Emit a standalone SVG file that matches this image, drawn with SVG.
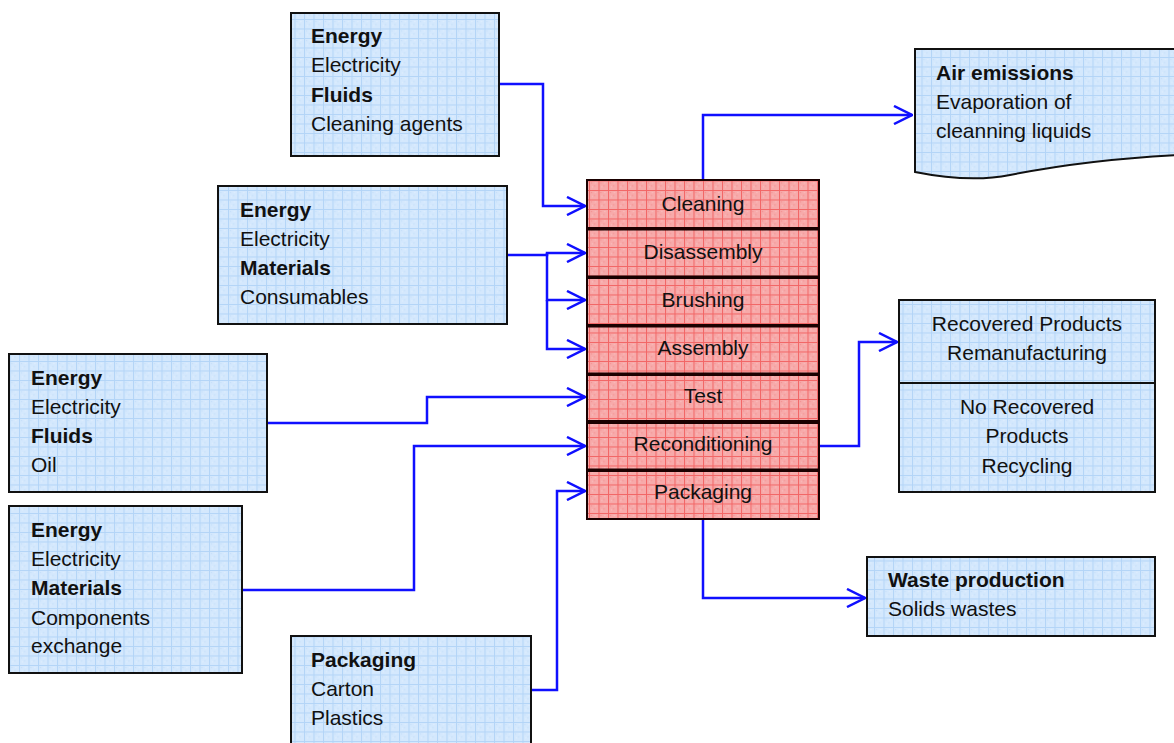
<svg xmlns="http://www.w3.org/2000/svg" width="1174" height="743" viewBox="0 0 1174 743">
<style>
.box{fill:url(#blue);stroke:#111;stroke-width:2}
.row{fill:url(#red);stroke:#1a0000;stroke-width:2}
text{font-family:"Liberation Sans",Arial,sans-serif;font-size:21px;fill:#111}
.b{font-weight:bold}
.c{text-anchor:middle}
.con{fill:none;stroke:#1010ff;stroke-width:2.5;marker-end:url(#arr)}
</style>
<defs>
<pattern id="blue" width="9.5" height="9.5" patternUnits="userSpaceOnUse">
<rect width="9.5" height="9.5" fill="#d4e8fd"/>
<rect x="2" y="2" width="1" height="1" fill="#c0dcf8"/><rect x="5" y="5" width="1" height="1" fill="#c0dcf8"/><rect x="6" y="2" width="1" height="1" fill="#e6f2fe"/><rect x="3" y="6" width="1" height="1" fill="#e6f2fe"/>
<path d="M0,0.5H9.5M0.5,0V9.5" stroke="#b3d4f7" stroke-width="1"/>
</pattern>
<pattern id="red" width="9.5" height="9.5" patternUnits="userSpaceOnUse">
<rect width="9.5" height="9.5" fill="#f7aaaa"/>
<rect x="2" y="2" width="1" height="1" fill="#f38a8a"/><rect x="5" y="5" width="1" height="1" fill="#f38a8a"/><rect x="6" y="2" width="1" height="1" fill="#fbcaca"/><rect x="3" y="6" width="1" height="1" fill="#fbcaca"/>
<path d="M0,0.5H9.5M0.5,0V9.5" stroke="#f26565" stroke-width="1"/>
</pattern>
<marker id="arr" viewBox="0 0 20 20" refX="19" refY="10" markerWidth="20" markerHeight="20" markerUnits="userSpaceOnUse" orient="auto">
<path d="M1,1 L19,10 L1,19" fill="none" stroke="#1010ff" stroke-width="2.5"/>
</marker>
</defs>

<g id="connectors">
<path class="con" d="M499,84 H543 V206 H585"/>
<path class="con" d="M507,255 H547 V253 H585"/>
<path class="con" d="M547,253 V300 H585"/>
<path class="con" d="M547,300 V349 H585"/>
<path class="con" d="M267,423 H427 V397 H585"/>
<path class="con" d="M242,590 H414 V446 H585"/>
<path class="con" d="M531,690 H557 V491 H585"/>
<path class="con" d="M703,180 V115 H912"/>
<path class="con" d="M819,446 H859 V342 H897"/>
<path class="con" d="M703,519 V598 H865"/>
</g>

<g id="input-cleaning">
<rect class="box" x="291" y="13" width="208" height="143"/>
<text x="311" y="43" class="b">Energy</text>
<text x="311" y="72">Electricity</text>
<text x="311" y="102" class="b">Fluids</text>
<text x="311" y="131">Cleaning agents</text>
</g>

<g id="input-consumables">
<rect class="box" x="218" y="186" width="289" height="138"/>
<text x="240" y="217" class="b">Energy</text>
<text x="240" y="246">Electricity</text>
<text x="240" y="275" class="b">Materials</text>
<text x="240" y="304">Consumables</text>
</g>

<g id="input-oil">
<rect class="box" x="9" y="354" width="258" height="138"/>
<text x="31" y="385" class="b">Energy</text>
<text x="31" y="414">Electricity</text>
<text x="31" y="443" class="b">Fluids</text>
<text x="31" y="472">Oil</text>
</g>

<g id="input-components">
<rect class="box" x="9" y="506" width="233" height="167"/>
<text x="31" y="537" class="b">Energy</text>
<text x="31" y="566">Electricity</text>
<text x="31" y="595" class="b">Materials</text>
<text x="31" y="625">Components</text>
<text x="31" y="653">exchange</text>
</g>

<g id="input-packaging">
<rect class="box" x="291" y="636" width="240" height="112"/>
<text x="311" y="667" class="b">Packaging</text>
<text x="311" y="696">Carton</text>
<text x="311" y="725">Plastics</text>
</g>

<g id="process">
<rect class="row" x="587" y="180" width="232" height="48"/>
<rect class="row" x="587" y="229.5" width="232" height="47"/>
<rect class="row" x="587" y="278" width="232" height="47"/>
<rect class="row" x="587" y="326.5" width="232" height="47"/>
<rect class="row" x="587" y="375" width="232" height="46"/>
<rect class="row" x="587" y="423" width="232" height="46.5"/>
<rect class="row" x="587" y="471" width="232" height="48"/>
<text x="703" y="211" class="c">Cleaning</text>
<text x="703" y="259" class="c">Disassembly</text>
<text x="703" y="307" class="c">Brushing</text>
<text x="703" y="355" class="c">Assembly</text>
<text x="703" y="403" class="c">Test</text>
<text x="703" y="451" class="c">Reconditioning</text>
<text x="703" y="499" class="c">Packaging</text>
</g>

<g id="air-emissions">
<path class="box" d="M915,49 H1178 V155 C1120,158 1060,165 1010,175 C985,180 955,180 915,172 Z"/>
<text x="936" y="80" class="b">Air emissions</text>
<text x="936" y="109">Evaporation of</text>
<text x="936" y="138">cleanning liquids</text>
</g>

<g id="products">
<rect class="box" x="899" y="300" width="256" height="192"/>
<line x1="899" y1="383" x2="1155" y2="383" stroke="#111" stroke-width="2"/>
<text x="1027" y="331" class="c">Recovered Products</text>
<text x="1027" y="360" class="c">Remanufacturing</text>
<text x="1027" y="414" class="c">No Recovered</text>
<text x="1027" y="443" class="c">Products</text>
<text x="1027" y="473" class="c">Recycling</text>
</g>

<g id="waste">
<rect class="box" x="867" y="557" width="288" height="79"/>
<text x="888" y="587" class="b">Waste production</text>
<text x="888" y="616">Solids wastes</text>
</g>
</svg>
